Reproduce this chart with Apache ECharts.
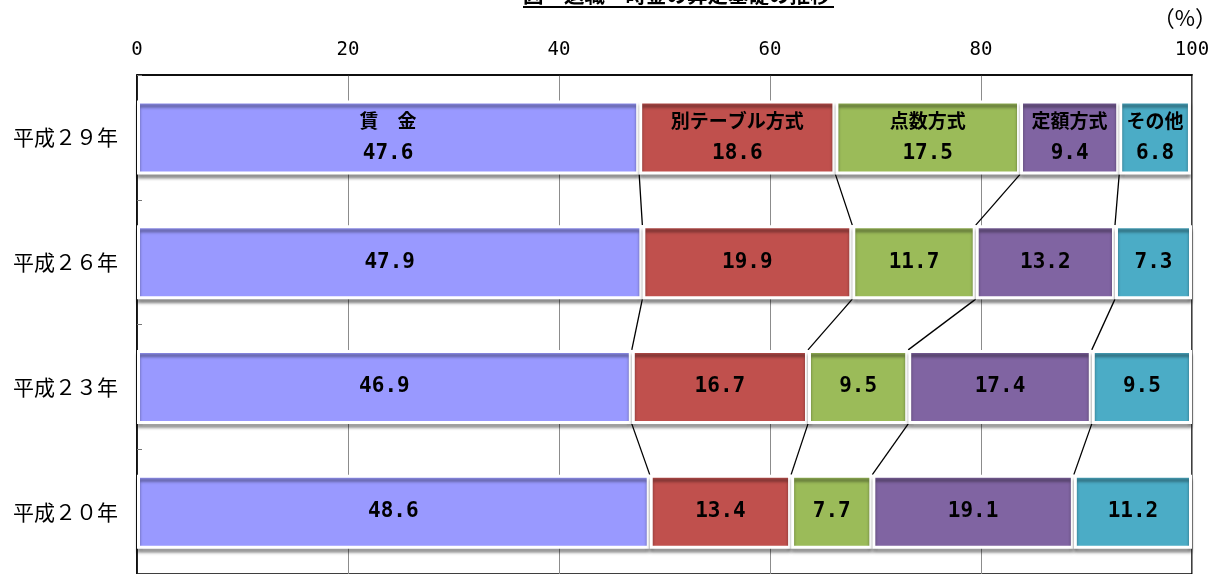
<!DOCTYPE html>
<html>
<head>
<meta charset="utf-8">
<script src="https://cdn.jsdelivr.net/npm/echarts@6/dist/echarts.min.js"></script>
<style>
  html, body { margin: 0; padding: 0; background: #fff; }
  #chart { width: 1217px; height: 574px; }
</style>
</head>
<body>
<div id="chart"></div>
<script>
// 年次（上から）
let years = ['平成２９年', '平成２６年', '平成２３年', '平成２０年'];
let seriesNames = ['賃\u3000金', '別テーブル方式', '点数方式', '定額方式', 'その他'];
let seriesColors = ['#9999FF', '#C0504D', '#9BBB59', '#8064A2', '#4BACC6'];

// 各方式の割合（％）
let chingin = [47.6, 47.9, 46.9, 48.6];
let betsuTable = [18.6, 19.9, 16.7, 13.4];
let tensu = [17.5, 11.7, 9.5, 7.7];
let teigaku = [9.4, 13.2, 17.4, 19.1];
let sonota = [6.8, 7.3, 9.5, 11.2];

let xTicks = [0, 20, 40, 60, 80, 100];

const BAR_W = 74;
const NUM_FONT = '"DejaVu Sans Mono", monospace';
const JP_FONT = '"Noto Sans CJK JP", sans-serif';

let values = [chingin, betsuTable, tensu, teigaku, sonota];

// 区分線（系列線）用: 境界ごとの累積値
let seriesLineData = [];
for (let k = 0; k < values.length - 1; k++) {
    for (let i = 0; i < years.length - 1; i++) {
        let a = 0, b = 0;
        for (let j = 0; j <= k; j++) {
            a += values[j][i];
            b += values[j][i + 1];
        }
        seriesLineData.push([a, b, i]);
    }
}

let barSeries = values.map(function (arr, idx) {
    return {
        name: seriesNames[idx],
        type: 'bar',
        stack: 'total',
        barWidth: BAR_W,
        z: 3,
        data: arr,
        itemStyle: {
            color: seriesColors[idx],
            borderColor: '#fff',
            borderWidth: 3,
            shadowColor: 'rgba(0,0,0,0.4)',
            shadowBlur: 3,
            shadowOffsetY: 4
        },
        label: {
            show: true,
            position: 'inside',
            formatter: function (p) {
                let v = p.value.toFixed(1);
                if (p.dataIndex === 0) {
                    return '{n|' + seriesNames[idx] + '}\n{v|' + v + '}';
                }
                return '{v|' + v + '}';
            },
            rich: {
                n: { fontFamily: JP_FONT, fontWeight: 'bold', fontSize: 19, color: '#000', lineHeight: 33 },
                v: { fontFamily: NUM_FONT, fontWeight: 'bold', fontSize: 21, color: '#000', lineHeight: 33 }
            }
        }
    };
});

let chart = echarts.init(document.getElementById('chart'));

chart.setOption({
    animation: false,
    grid: {
        left: 137,
        right: 25,
        top: 75,
        height: 504,
        show: true,
        borderColor: '#000',
        borderWidth: 1.5
    },
    graphic: [
        {
            type: 'text',
            left: 523,
            top: -15,
            style: {
                text: '図\u3000退職一時金の算定基礎の推移',
                font: 'bold 20.5px "Noto Sans CJK JP"',
                fill: '#000'
            }
        },
        {
            type: 'line',
            shape: { x1: 523, y1: 7, x2: 834, y2: 7 },
            style: { stroke: '#000', lineWidth: 2 }
        },
        {
            type: 'text',
            right: 0,
            top: 7,
            style: {
                text: '（%）',
                font: '22px "Noto Sans CJK JP"',
                fill: '#000'
            }
        }
    ],
    xAxis: {
        type: 'value',
        position: 'top',
        min: 0,
        max: 100,
        interval: 20,
        axisLine: { show: true, lineStyle: { color: '#000', width: 1.5 } },
        axisTick: { show: false },
        axisLabel: {
            margin: 15,
            fontFamily: NUM_FONT,
            fontSize: 19,
            color: '#000',
            formatter: function (v) { return xTicks.indexOf(v) >= 0 ? String(v) : ''; }
        },
        splitLine: { show: true, lineStyle: { color: '#8c8c8c', width: 1 } }
    },
    yAxis: {
        type: 'category',
        inverse: true,
        data: years,
        axisLine: { show: true, lineStyle: { color: '#000', width: 1.5 } },
        axisTick: { show: true, inside: true, length: 5, lineStyle: { color: '#777' } },
        axisLabel: {
            margin: 19,
            fontFamily: JP_FONT,
            fontSize: 21,
            color: '#000'
        }
    },
    series: barSeries.concat([{
        type: 'custom',
        z: 2,
        silent: true,
        data: seriesLineData,
        encode: { x: [0, 1], y: 2 },
        renderItem: function (params, api) {
            let p1 = api.coord([api.value(0), api.value(2)]);
            let p2 = api.coord([api.value(1), api.value(2) + 1]);
            return {
                type: 'line',
                shape: {
                    x1: p1[0], y1: p1[1] + BAR_W / 2,
                    x2: p2[0], y2: p2[1] - BAR_W / 2
                },
                style: { stroke: '#000', lineWidth: 1.3 }
            };
        }
    }])
});
</script>
</body>
</html>
